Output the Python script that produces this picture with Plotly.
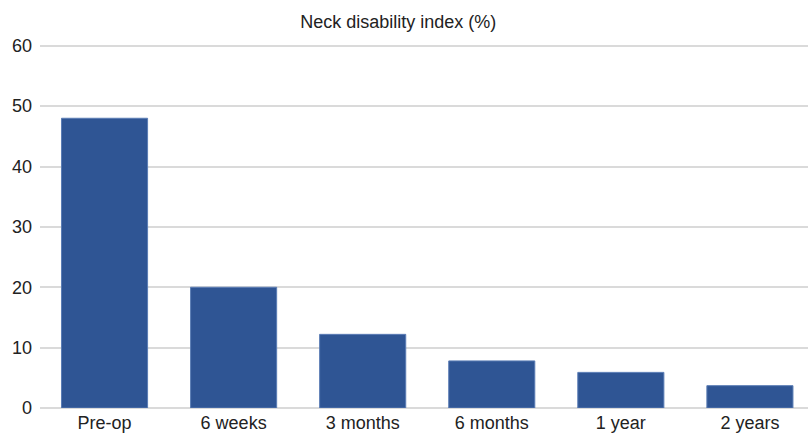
import plotly.graph_objects as go

# Neck disability index over follow-up
periods = ["Pre-op", "6 weeks", "3 months", "6 months", "1 year", "2 years"]
ndi_values = [48.0, 20.0, 12.2, 7.8, 5.9, 3.7]
y_ticks = [0, 10, 20, 30, 40, 50, 60]

fig = go.Figure(
    go.Bar(
        x=periods,
        y=ndi_values,
        marker=dict(color="#2F5594", line=dict(color="#5B7DB5", width=1)),
        hoverinfo="x+y",
    )
)

fig.update_layout(
    width=808,
    height=434,
    margin=dict(l=40, r=0, t=44, b=26),
    paper_bgcolor="white",
    plot_bgcolor="white",
    bargap=0.333,
    showlegend=False,
    font=dict(family="Liberation Sans, Arial, sans-serif", size=18, color="#222222"),
    title=dict(
        text="Neck disability index (%)",
        x=0.493,
        xanchor="center",
        y=0.95,
        yanchor="middle",
        font=dict(size=18, color="#222222"),
    ),
    xaxis=dict(
        range=[-0.5, 5.45],
        showgrid=False,
        showline=False,
        zeroline=False,
        ticks="",
        ticklabelstandoff=2,
        tickfont=dict(size=18),
    ),
    yaxis=dict(
        range=[0, 60.3],
        tickvals=y_ticks,
        showgrid=True,
        gridcolor="#DADADA",
        gridwidth=2,
        zeroline=True,
        zerolinecolor="#DADADA",
        zerolinewidth=2,
        showline=False,
        ticks="",
        ticklabelstandoff=7,
        tickfont=dict(size=18),
    ),
)

fig.write_html("out.html")
